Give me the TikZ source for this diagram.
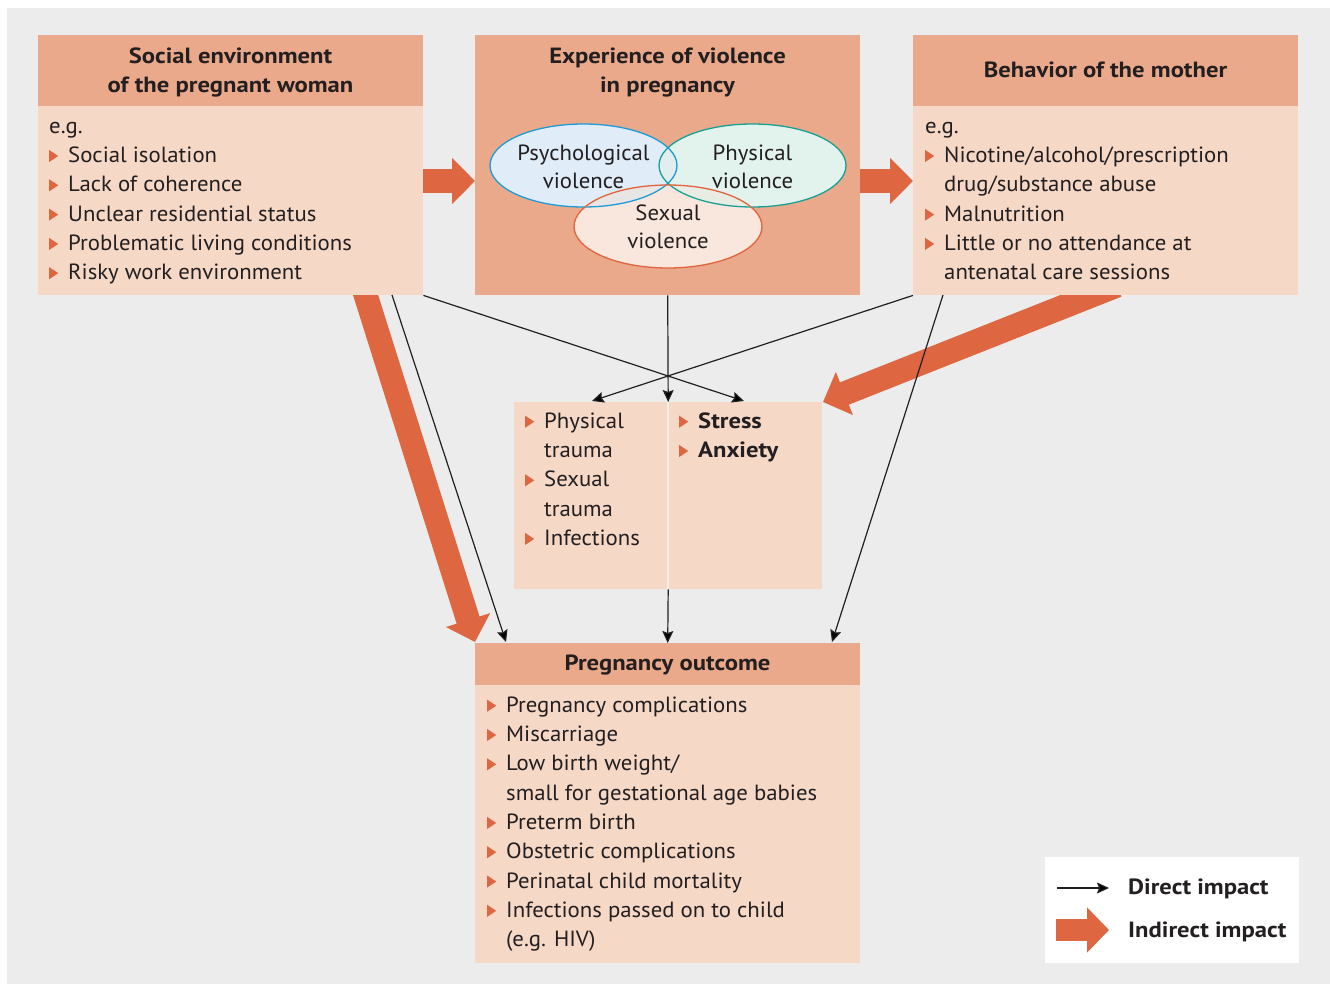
\documentclass[tikz,border=0pt]{standalone}
\usepackage{fontspec}
\setmainfont{PT Sans}[UprightFeatures={FakeStretch=1.035}, BoldFeatures={FakeStretch=1.12}]
\usetikzlibrary{arrows.meta,backgrounds,calc}
\definecolor{bggray}{HTML}{EBECEB}
\definecolor{hdr}{HTML}{EAA98A}
\definecolor{bdy}{HTML}{F6D8C6}
\definecolor{org}{HTML}{DE6640}
\definecolor{txt}{HTML}{231F20}
\definecolor{psyf}{HTML}{E0ECF7}
\definecolor{psyd}{HTML}{1E9AD6}
\definecolor{phyf}{HTML}{E2F2EC}
\definecolor{phyd}{HTML}{19A093}
\definecolor{sexf}{HTML}{F9E6DC}
\definecolor{sexd}{HTML}{E0643C}
\definecolor{mixpp}{HTML}{E1EDEE}
\definecolor{mixps}{HTML}{E8E6E4}
\definecolor{mixhs}{HTML}{E9ECE3}
\newcommand{\bul}{\tikz[baseline=0pt]\fill[org] (0pt,0.5pt)--(0pt,12.5pt)--(9pt,6.5pt)--cycle;\hspace{10pt}}
\newcommand{\ind}{\hspace*{19pt}}
\newcommand{\st}{\rule{0pt}{20pt}}
\tikzset{
  hdrbox/.style={fill=hdr, draw=none, inner sep=0pt, anchor=north west, minimum width=385pt},
  bdybox/.style={fill=bdy, draw=none, inner sep=0pt, anchor=north west},
  bodytxt/.style={anchor=north west, align=left, inner sep=0pt, text=txt, font=\fontsize{22}{29.3}\selectfont},
  hdtxt/.style={anchor=north, align=center, inner sep=0pt, text=txt, font=\fontsize{22}{29.3}\selectfont\bfseries},
  eltxt/.style={anchor=north, align=center, inner sep=0pt, text=txt, font=\fontsize{22}{28.5}\selectfont},
  indir/.style={draw=org, line width=24pt, -{Triangle[width=45pt,length=23pt]}},
  direct/.style={draw=txt, line width=1.2pt, -{Stealth[length=12pt,width=11pt,inset=2pt]}},
}
\begin{document}
\begin{tikzpicture}[x=1pt,y=-1pt]
\useasboundingbox (0,0) rectangle (1330,984);
\begin{scope}[on background layer]
\fill[bggray] (7,8) rectangle (1330,984);
\end{scope}

% top boxes
\node[hdrbox, minimum height=71pt] (soch) at (38,35) {};
\node[bdybox, minimum width=385pt, minimum height=189pt] (socb) at (38,106) {};
\node[hdrbox, minimum height=260pt] (exp) at (475,35) {};
\node[hdrbox, minimum height=71pt] (behh) at (913,35) {};
\node[bdybox, minimum width=385pt, minimum height=189pt] (behb) at (913,106) {};

% middle box
\node[bdybox, minimum width=308pt, minimum height=187pt] (mid) at (514,402) {};
\draw[white!55!bdy, line width=1.5pt] (mid.north) -- (mid.south);

% outcome
\node[hdrbox, minimum height=42pt] (outh) at (475,643) {};
\node[bdybox, minimum width=385pt, minimum height=278pt] (outb) at (475,685) {};

% legend
\node[fill=white, inner sep=0pt, anchor=north west, minimum width=254pt, minimum height=106pt] (leg) at (1045,857) {};

% header texts
\node[hdtxt] (socht) at (230.5,43) {\st Social environment\\of the pregnant woman};
\node[hdtxt] (expt) at (667.5,43) {\st Experience of violence\\in pregnancy};
\node[hdtxt] (behht) at (1105.5,57) {\st Behavior of the mother};
\node[hdtxt] (outht) at (667.5,650) {\st Pregnancy outcome};

% body texts
\node[bodytxt] (socbt) at (49,113) {\st e.g.\\
\bul Social isolation\\
\bul Lack of coherence\\
\bul Unclear residential status\\
\bul Problematic living conditions\\
\bul Risky work environment};
\node[bodytxt] (behbt) at (925,113) {\st e.g.\\
\bul Nicotine/alcohol/prescription\\
\ind drug/substance abuse\\
\bul Malnutrition\\
\bul Little or no attendance at\\
\ind antenatal care sessions};
\node[bodytxt] (midl) at (525,408) {\st\bul Physical\\
\ind trauma\\
\bul Sexual\\
\ind trauma\\
\bul Infections};
\node[bodytxt] (midr) at (679,408) {\st\bul \textbf{Stress}\\
\bul \textbf{Anxiety}};
\node[bodytxt] (outbt) at (487,692) {\st\bul Pregnancy complications\\
\bul Miscarriage\\
\bul Low birth weight/\\
\ind small for gestational age babies\\
\bul Preterm birth\\
\bul Obstetric complications\\
\bul Perinatal child mortality\\
\bul Infections passed on to child\\
\ind (e.g. HIV)};

% Venn ellipses
\fill[psyf] (583.5,165.5) ellipse [x radius=93.5, y radius=41.5];
\fill[phyf] (752.5,165.5) ellipse [x radius=93.5, y radius=41.5];
\fill[sexf] (668,226.5) ellipse [x radius=94, y radius=41.5];
\begin{scope}
\clip (583.5,165.5) ellipse [x radius=93.5, y radius=41.5];
\fill[mixpp] (752.5,165.5) ellipse [x radius=93.5, y radius=41.5];
\fill[mixps] (668,226.5) ellipse [x radius=94, y radius=41.5];
\end{scope}
\begin{scope}
\clip (752.5,165.5) ellipse [x radius=93.5, y radius=41.5];
\fill[mixhs] (668,226.5) ellipse [x radius=94, y radius=41.5];
\end{scope}
\draw[psyd, line width=1.3pt] (583.5,165.5) ellipse [x radius=93.5, y radius=41.5];
\draw[phyd, line width=1.3pt] (752.5,165.5) ellipse [x radius=93.5, y radius=41.5];
\draw[sexd, line width=1.3pt] (668,226.5) ellipse [x radius=94, y radius=41.5];
\node[eltxt] (psyt) at (583.5,140) {\st Psychological\\violence};
\node[eltxt] (phyt) at (752.5,140) {\st Physical\\violence};
\node[eltxt] (sext) at (668,200) {\st Sexual\\violence};

% indirect (orange) arrows, under the boxes
\begin{scope}[on background layer]
\coordinate (a1s) at (socb.east |- 0,181);
\coordinate (a1e) at (exp.west |- 0,181);
\coordinate (a2s) at (exp.east |- 0,181);
\coordinate (a2e) at (behb.west |- 0,181);
\coordinate (a3s) at (364,290);
\coordinate (a3e) at (475,642);
\coordinate (a4s) at (1117,285.5);
\coordinate (a4e) at (823,402);
\draw[indir] (a1s) -- (a1e);
\draw[indir] (a2s) -- (a2e);
\draw[indir] (a3s) -- (a3e);
\draw[indir] (a4s) -- (a4e);
\end{scope}

% direct (black) arrows
\coordinate (d1e) at (744,401);
\coordinate (d2e) at (592,401);
\coordinate (d4s) at (392,295);
\coordinate (d4e) at (506,642);
\coordinate (d6s) at (943,295);
\coordinate (d6e) at (832,642);
\draw[direct] (socb.south east) -- (d1e);
\draw[direct] (behb.south west) -- (d2e);
\draw[direct] (exp.south) -- (mid.north);
\draw[direct] (d4s) -- (d4e);
\draw[direct] (mid.south) -- (outh.north);
\draw[direct] (d6s) -- (d6e);

% legend content
\coordinate (l1s) at (1057,888);
\coordinate (l1e) at (1109,888);
\coordinate (l2s) at (1056,930);
\coordinate (l2e) at (1109,930);
\draw[direct] (l1s) -- (l1e);
\draw[draw=org, line width=22pt, -{Triangle[width=44pt,length=22pt]}] (l2s) -- (l2e);
\node[bodytxt, font=\fontsize{22}{29.3}\selectfont\bfseries] (lt1) at (1128,874) {\st Direct impact};
\node[bodytxt, font=\fontsize{22}{29.3}\selectfont\bfseries] (lt2) at (1128,917) {\st Indirect impact};
\end{tikzpicture}
\end{document}
